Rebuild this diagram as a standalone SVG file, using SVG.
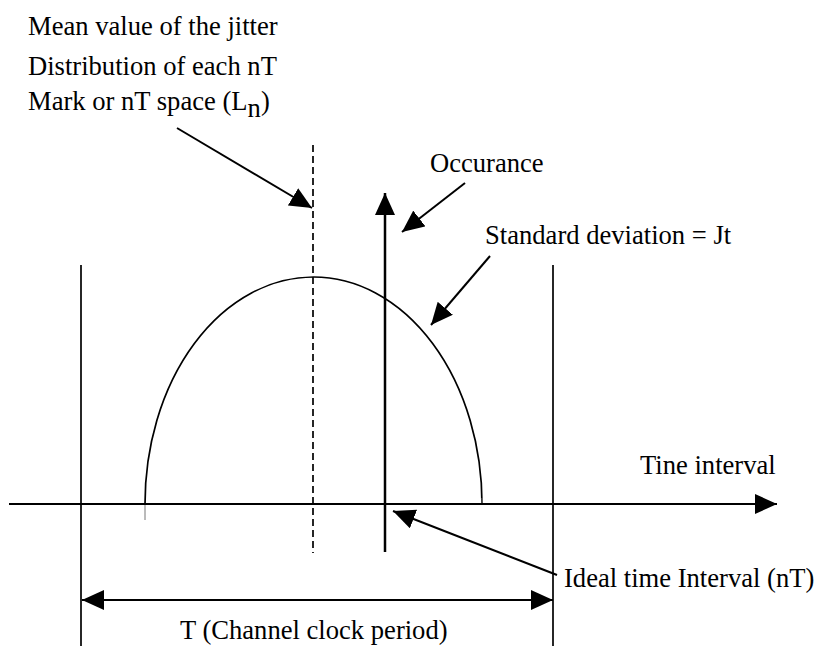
<svg xmlns="http://www.w3.org/2000/svg" width="822" height="646" viewBox="0 0 822 646">
<style>
text{font-family:'Liberation Serif','Times New Roman',Times,serif;font-size:26.6px;fill:#000}
.ln{stroke:#000;fill:none}
.th{stroke-width:2.5}
.md{stroke-width:2}
.tn{stroke-width:1.7}
.ar{marker-end:url(#ah)}
</style>
<defs>
<marker id="ah" viewBox="0 0 22 20" refX="22" refY="10" markerWidth="22" markerHeight="20" markerUnits="userSpaceOnUse" orient="auto">
<path d="M0,0 L22,10 L0,20 z" fill="#000"/>
</marker>
</defs>
<rect width="822" height="646" fill="#fff"/>
<g id="curve">
<path class="ln tn" d="M145,504 A168.5,227 0 0 1 482,504"/>
<line x1="145" y1="504" x2="145" y2="520" stroke="#777" stroke-width="1"/>
<line x1="482" y1="498" x2="482" y2="504" stroke="#777" stroke-width="1"/>
</g>
<g id="period-lines">
<line class="ln tn" x1="81" y1="265" x2="81" y2="646"/>
<line class="ln tn" x1="553" y1="265" x2="553" y2="646"/>
</g>
<g id="mean-line">
<line class="ln tn" x1="313" y1="145" x2="313" y2="553" stroke-dasharray="7,4"/>
</g>
<g id="labels">
<text x="28" y="35">Mean value of the jitter</text>
<text x="28" y="75">Distribution of each nT</text>
<text x="28" y="110">Mark or nT space (L<tspan dy="7">n</tspan><tspan dy="-7">)</tspan></text>
<text x="430" y="172">Occurance</text>
<text x="485" y="244">Standard deviation = Jt</text>
<text x="640" y="474">Tine interval</text>
<text x="564" y="587">Ideal time Interval (nT)</text>
<text x="180" y="639">T (Channel clock period)</text>
</g>
<g id="connectors">
<line class="ln md ar" x1="9" y1="504" x2="777" y2="504"/>
<line class="ln th ar" x1="385" y1="552" x2="385" y2="193"/>
<line class="ln md ar" x1="465" y1="183" x2="402" y2="232"/>
<line class="ln md ar" x1="490" y1="256" x2="431" y2="325"/>
<line class="ln md ar" x1="177" y1="128" x2="312" y2="208"/>
<line class="ln md ar" x1="557" y1="575" x2="393" y2="511"/>
<line class="ln md ar" x1="300" y1="600" x2="82" y2="600"/>
<line class="ln md ar" x1="300" y1="600" x2="553" y2="600"/>
</g>
</svg>
